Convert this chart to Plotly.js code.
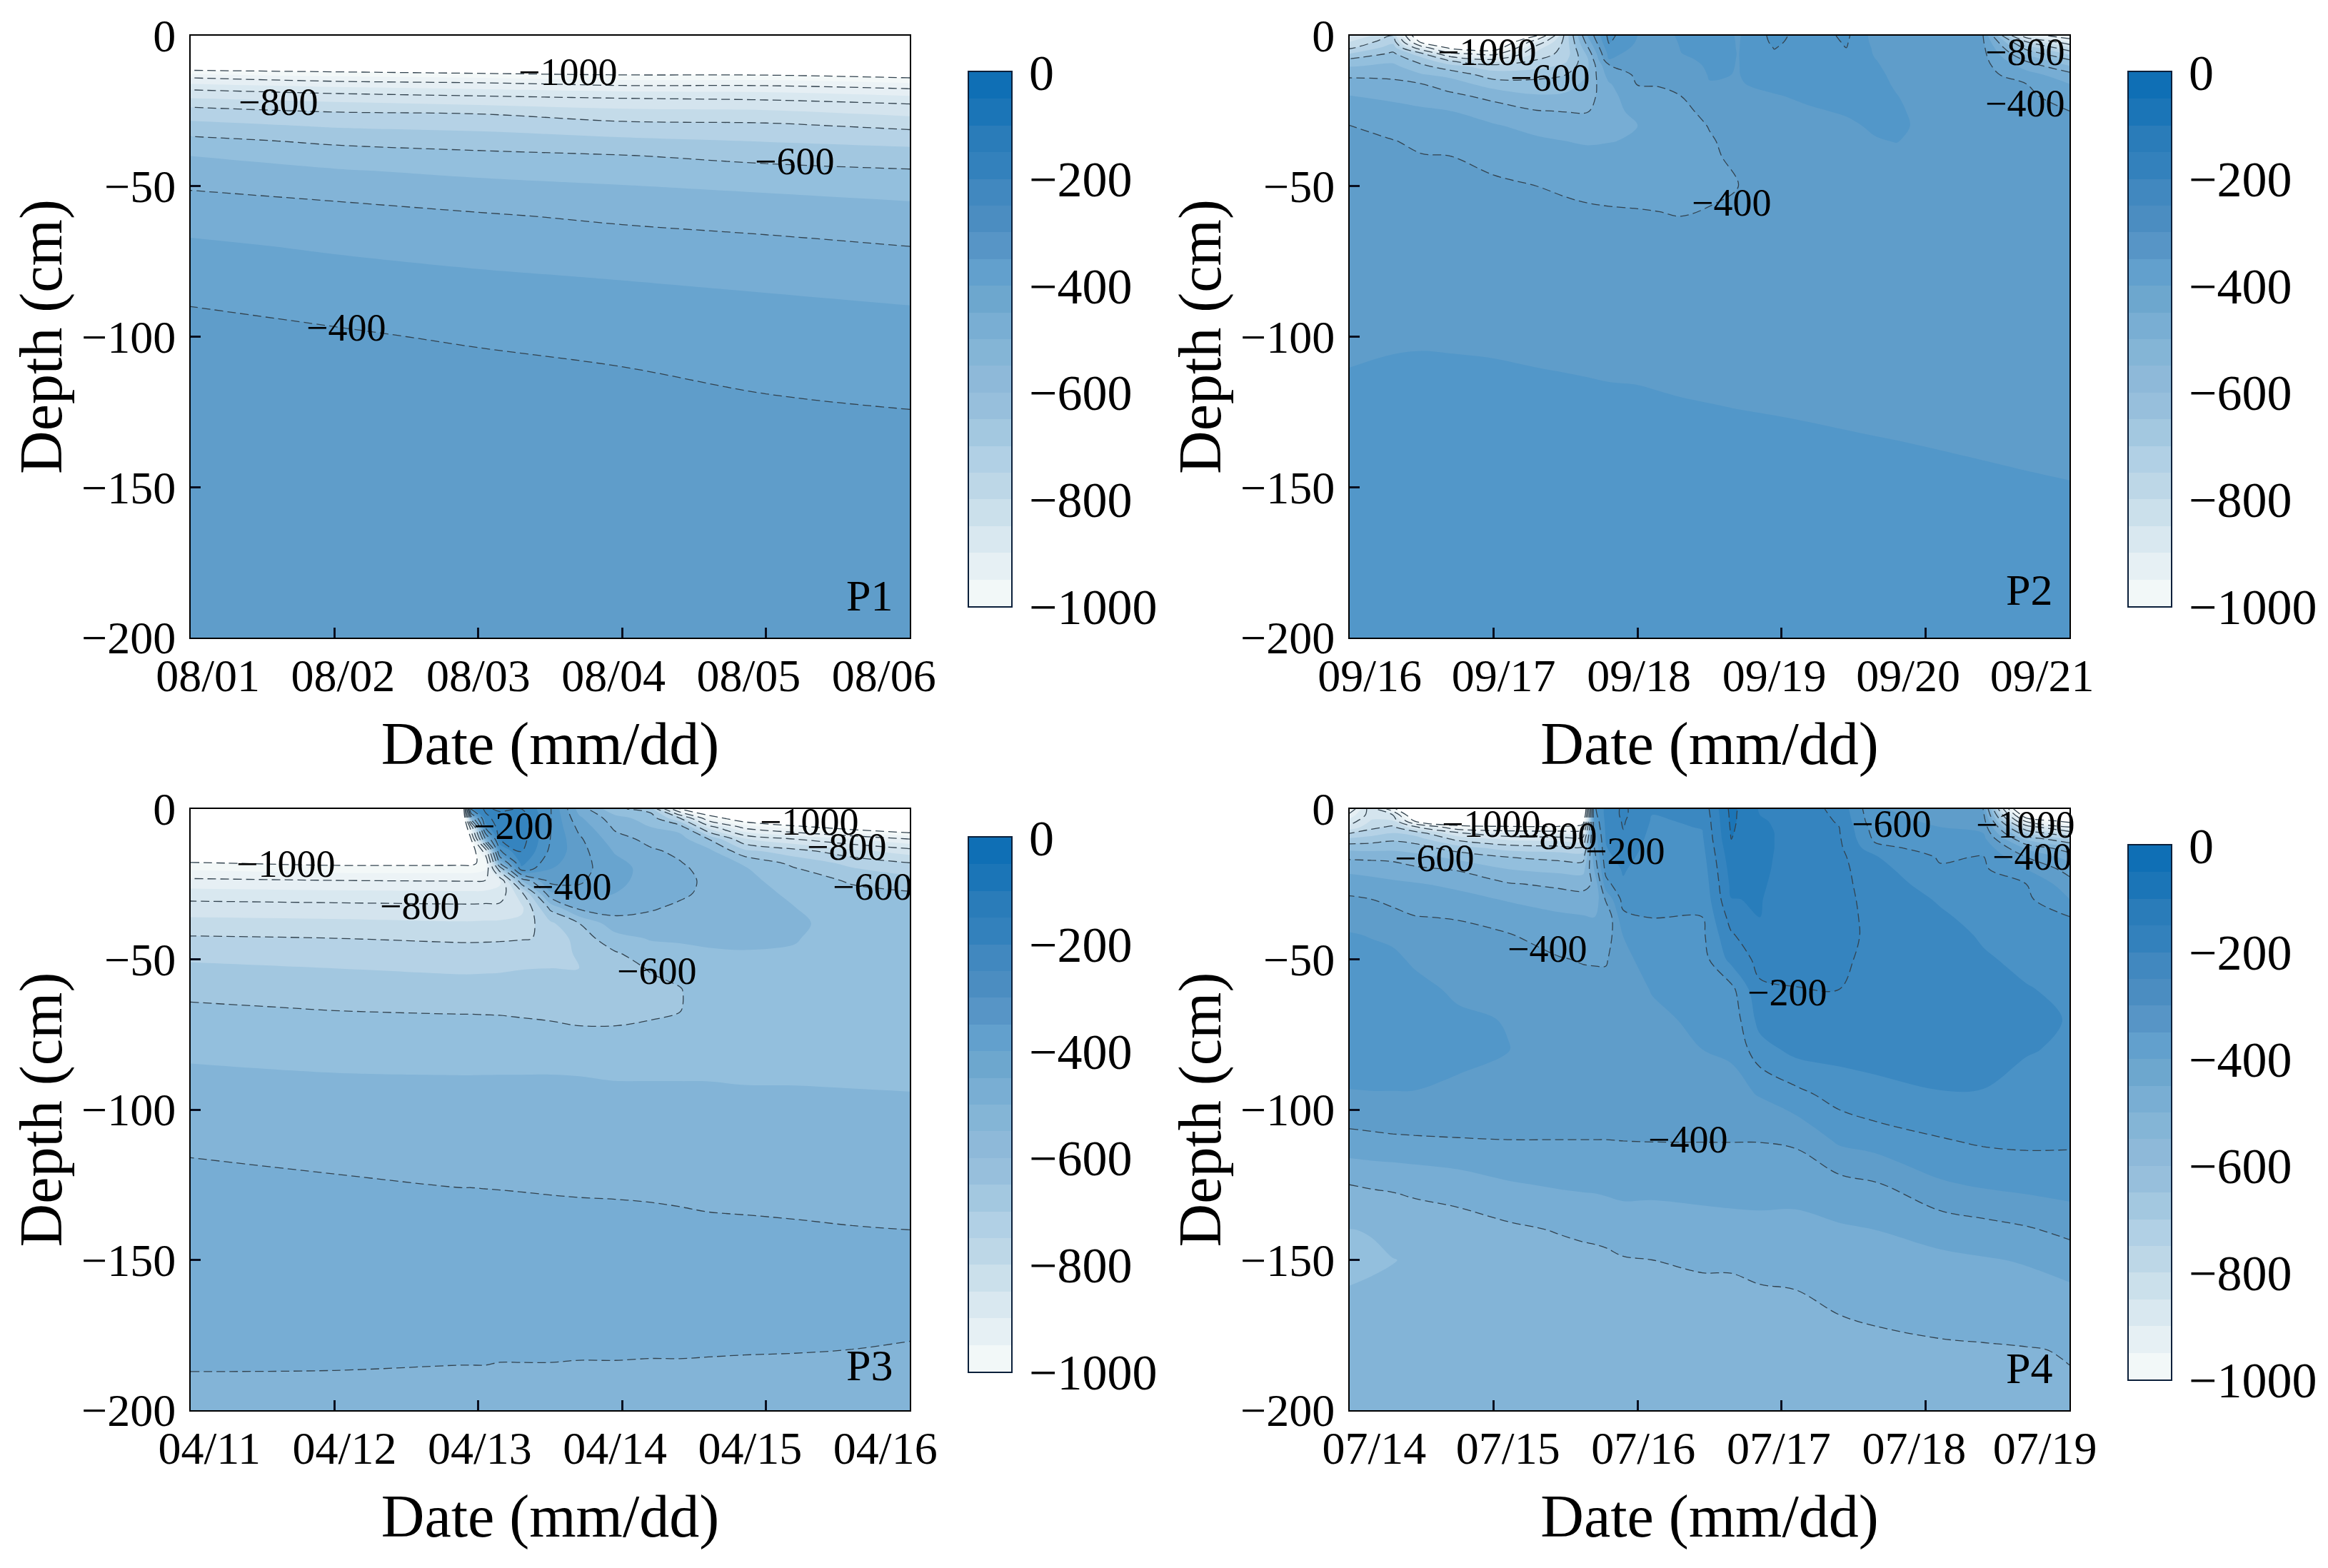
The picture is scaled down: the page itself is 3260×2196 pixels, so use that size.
<!DOCTYPE html>
<html>
<head>
<meta charset="utf-8">
<script src="https://cdn.plot.ly/plotly-3.0.1.min.js"></script>
<style>html,body{margin:0;padding:0;background:#fff}</style>
</head>
<body>
<div id="chart" style="width:3260px;height:2196px"></div>
<script>
// ---------- tick labels ----------
const p1Dates = ['08/01','08/02','08/03','08/04','08/05','08/06'];
const p2Dates = ['09/16','09/17','09/18','09/19','09/20','09/21'];
const p3Dates = ['04/11','04/12','04/13','04/14','04/15','04/16'];
const p4Dates = ['07/14','07/15','07/16','07/17','07/18','07/19'];
const p1DateAt = [0.12,1.06,2.00,2.94,3.88,4.82];
const p2DateAt = [0.14,1.07,2.01,2.95,3.88,4.81];
const p3DateAt = [0.13,1.07,2.01,2.95,3.89,4.83];
const p4DateAt = [0.17,1.10,2.04,2.98,3.92,4.83];
const scaleLevels = [-975,-925,-875,-825,-775,-725,-675,-625,-575,-525,-475,-425,-375,-325,-275,-225,-175,-125,-75,-25];
const scaleColours = ['#f2f8f8','#e6f0f4','#d9e8f0','#cbe0eb','#bdd7e7','#b1d0e5','#a3c8e0','#97bfdc','#8eb9d9','#84b5d6','#79aed3','#6da7ce','#62a0cd','#5795c6','#4b8dc1','#4188bf','#3381bc','#2a7cb9','#1b75b7','#0f6fb5'];
// fill colour below -1000, then each 50-wide band from -1000 up to 0, then above 0
const fillColours = ['#ffffff','#f3f8f8','#ecf3f6','#e6eff4','#d9e8f0','#d4e4ee','#c4dbe9','#b5d2e6','#a2c7e0','#93bfdd','#83b4d7','#77add4','#68a4cf','#5f9dca','#5297c9','#4a92c6','#3b88c1','#3584bf','#287dbb','#1b75b7','#0f6fb5','#0f6fb5'];

// ---------- P1: depth values per day column ----------
const p1Days = [0,1,2,3,4,5];
const p1Depths = [0,-10,-12,-14,-16,-18,-20,-23,-26,-30,-35,-40,-45,-50,-55,-60,-70,-80,-90,-100,-110,-125,-150,-200];
const p1Columns = [
[-1200,-1060,-980,-900,-850,-800,-764,-709,-674,-632,-586,-550,-527,-505,-487,-470,-442,-421,-400,-391,-385,-379,-372,-362],
[-1210,-1070,-1000,-933,-875,-825,-783,-733,-691,-655,-609,-575,-545,-523,-500,-485,-456,-433,-408,-396,-389,-381,-373,-362],
[-1220,-1080,-1017,-950,-889,-844,-800,-750,-700,-665,-622,-587,-561,-536,-514,-495,-468,-444,-418,-404,-393,-384,-374,-362],
[-1230,-1090,-1030,-971,-914,-862,-812,-766,-727,-683,-639,-597,-572,-548,-528,-508,-479,-453,-430,-414,-400,-388,-376,-361],
[-1240,-1095,-1035,-971,-914,-867,-822,-773,-733,-689,-652,-615,-585,-560,-538,-519,-488,-462,-440,-424,-409,-394,-378,-361],
[-1250,-1100,-1050,-1000,-943,-890,-850,-794,-759,-712,-662,-631,-595,-573,-550,-533,-500,-474,-449,-432,-417,-399,-380,-360]
];
const p1LabelX = [2.62,0.61,4.20,1.08];
const p1LabelY = [-12.1,-22,-41.7,-97];
const p1LabelText = ['−1000','−800','−600','−400'];

// ---------- P2 ----------
const p2Days = [0,0.3,0.5,0.7,1,1.3,1.5,1.65,1.8,2,2.15,2.3,2.5,2.7,2.95,3.2,3.45,3.65,3.8,3.95,4.4,4.7,5];
const p2Depths = [0,-2,-4,-6,-8,-10,-13,-16,-20,-25,-30,-35,-40,-50,-60,-80,-100,-110,-125,-150,-200];
const p2Columns = [
[-800,-750,-710,-650,-590,-555,-510,-480,-449,-425,-399,-395,-392,-385,-380,-368,-353.5,-350.1,-344.8,-336,-320],
[-700,-665,-625,-590,-565,-540,-515,-485,-460,-435,-420,-398,-394,-388,-382,-368,-352,-348.6,-343,-334.4,-318],
[-1150,-1030,-860,-685,-625,-590,-545,-500,-472,-442,-425,-410,-398,-390,-384,-368,-351.8,-348,-343,-334,-317],
[-1200,-1110,-1020,-880,-715,-635,-565,-525,-488,-450,-435,-420,-400,-391,-385,-369,-352,-348.4,-343,-334.2,-316],
[-1250,-1150,-1060,-925,-790,-680,-625,-575,-515,-475,-445,-432,-412,-393,-386,-370,-352.6,-349,-344,-335,-315],
[-1000,-850,-770,-735,-700,-670,-615,-585,-545,-498,-465,-442,-428,-400,-389,-372,-353.5,-350.1,-345,-336,-314],
[-680,-680,-680,-678,-660,-640,-600,-575,-540,-502,-472,-450,-433,-405,-391,-373,-354.2,-350.7,-345.5,-336.7,-314],
[-450,-480,-510,-540,-560,-560,-550,-535,-520,-503,-480,-455,-437,-410,-392,-373,-354.7,-351.2,-346,-337.2,-313],
[-285,-295,-315,-335,-352,-402,-430,-455,-470,-472,-465,-452,-435,-412,-394,-374,-355.3,-351.8,-346.5,-337.8,-313],
[-350,-355,-362,-370,-378,-385,-392,-398,-410,-432,-450,-445,-430,-412,-396,-375,-355.6,-352.1,-346.9,-338.1,-312],
[-375,-378,-382,-386,-390,-393,-396,-398,-406,-425,-438,-435,-425,-411,-398,-376,-356.3,-352.8,-347.6,-338.8,-312],
[-340,-345,-348,-351,-360,-372,-383,-392,-400,-413,-420,-422,-420,-410,-400,-378,-357,-353.5,-348.3,-339.5,-312],
[-320,-325,-330,-335,-340,-343,-347,-352,-368,-385,-398,-404,-405,-404,-398,-377,-357.7,-354.2,-349,-340.2,-312],
[-355,-353,-352,-351,-351,-351,-351,-352,-358,-368,-378,-386,-393,-400,-392,-377,-358.4,-354.9,-349.7,-340.9,-312],
[-285,-290,-298,-306,-315,-322,-332,-342,-352,-360,-367,-372,-378,-385,-382,-372,-359.1,-355.6,-350.4,-341.6,-312],
[-325,-327,-328,-330,-331,-332,-335,-338,-344,-353,-360,-366,-372,-378,-378,-371,-360,-356.5,-351.2,-342.5,-312],
[-290,-295,-300,-310,-318,-323,-329,-334,-340,-347,-355,-362,-368,-375,-376,-370,-360.9,-357.4,-352.1,-343.4,-313],
[-370,-365,-358,-354,-349,-345,-340,-338,-338,-340,-346,-352,-360,-370,-374,-370,-361.6,-358.1,-352.8,-344.1,-314],
[-375,-374,-372,-370,-367,-365,-360,-355,-349,-344,-342,-349,-358,-368,-373,-370,-362.1,-358.6,-353.3,-344.6,-315],
[-380,-379,-378,-376,-374,-372,-369,-366,-362,-358,-355,-357,-360,-368,-372,-370,-362.6,-359.1,-353.9,-345.1,-316],
[-400,-395,-390,-387,-385,-383,-381,-379,-377,-375,-373,-373,-373,-372,-371,-370,-364.4,-360.9,-355.6,-346.9,-318],
[-850,-700,-620,-560,-510,-470,-430,-400,-390,-382,-378,-376,-375,-373,-372,-370,-365.6,-362.1,-356.8,-348.1,-320],
[-950,-850,-740,-660,-600,-550,-480,-450,-425,-400,-392,-386,-382,-377,-374,-371,-366.7,-363.2,-358,-349.2,-322]
];
const p2LabelX = [0.95,1.39,2.65,4.69,4.69];
const p2LabelY = [-5.5,-14,-55.4,-5.5,-22.6];
const p2LabelText = ['−1000','−600','−400','−800','−400'];

// ---------- P3 ----------
const p3Days = [0,1,1.88,1.95,2.05,2.15,2.3,2.5,2.7,2.95,3.2,3.4,3.6,3.85,4.2,4.6,5];
const p3Depths = [0,-3,-6,-10,-14,-18,-20,-24,-28,-33,-38,-43,-48,-53,-60,-66,-72,-80,-90,-100,-116,-135,-160,-185,-200];
const p3Columns = [
[-1300,-1250,-1200,-1150,-1080,-995,-955,-885,-828,-775,-733,-694,-665,-640,-612,-595,-577,-558,-541,-525,-500,-480,-470,-497,-518],
[-1300,-1260,-1210,-1160,-1095,-1015,-975,-895,-835,-780,-738,-700,-675,-650,-623,-603,-586,-564,-546,-533,-506,-485,-472,-498,-515],
[-1300,-1270,-1220,-1170,-1100,-1015,-975,-900,-840,-785,-745,-708,-680,-658,-630,-606,-590,-568,-547,-535,-511,-490,-474,-500,-513],
[-260,-550,-850,-1000,-1060,-1015,-975,-900,-840,-785,-745,-708,-680,-658,-630,-606,-590,-568,-547,-534,-511,-490,-474,-500,-513],
[-190,-215,-280,-500,-860,-975,-955,-895,-838,-783,-743,-707,-680,-657,-629,-607,-590,-567,-547,-533,-512,-490,-474,-500,-512],
[-210,-175,-170,-200,-310,-500,-660,-860,-833,-782,-742,-706,-679,-656,-628,-607,-591,-566,-547,-532,-513,-490,-474,-501,-511],
[-200,-170,-165,-175,-195,-235,-265,-560,-715,-762,-735,-703,-676,-652,-625,-608,-594,-566,-547,-531,-515,-490,-473,-501,-510],
[-295,-295,-297,-300,-310,-335,-350,-385,-460,-590,-660,-695,-685,-650,-625,-612,-596,-565,-547,-530,-515,-492,-472,-501,-509],
[-470,-440,-415,-390,-380,-380,-382,-392,-420,-490,-600,-625,-640,-650,-630,-616,-600.5,-566,-548,-530,-516,-493,-471,-502,-508],
[-590,-530,-510,-480,-455,-435,-430,-440,-450,-480,-520,-570,-605,-615,-615,-612,-600.5,-565,-551,-529,-516,-494,-470,-502,-507],
[-620,-575,-550,-515,-493,-475,-470,-465,-475,-495,-520,-545,-575,-597,-610,-607,-597,-564,-551,-530,-518,-495,-469,-503,-506],
[-1000,-700,-570,-530,-510,-497,-490,-485,-490,-510,-525,-545,-560,-580,-603,-603,-592,-563,-551,-532,-518,-497,-468,-503,-506],
[-1090,-960,-770,-600,-535,-522,-517,-510,-512,-520,-532,-545,-553,-560,-570,-572,-570,-560,-551,-535,-519,-499,-467,-504,-505],
[-1180,-1060,-920,-745,-635,-555,-545,-535,-530,-530,-535,-543,-552,-556,-558,-557,-556,-553,-552,-541,-520,-500,-468,-505,-506],
[-1250,-1130,-980,-800,-680,-615,-595,-575,-560,-549,-542,-548,-553,-555,-556,-556,-556,-555,-552,-542,-522,-502,-468,-506,-512],
[-1300,-1190,-1040,-850,-735,-665,-645,-605,-588,-577,-570,-566,-563,-561,-560,-559,-558,-557,-553,-543,-525,-505,-470,-508,-518],
[-1350,-1230,-1090,-900,-775,-698,-675,-628,-595,-582,-575,-570,-566,-563,-561,-560,-559,-558,-554,-544,-528,-507,-472,-513,-525]
];
const p3LabelX = [2.24,0.66,1.59,2.65,3.24,4.30,4.56,4.74];
const p3LabelY = [-5.8,-18.3,-32.4,-25.8,-54,-4.2,-12.5,-25.8];
const p3LabelText = ['−200','−1000','−800','−400','−600','−1000','−800','−600'];

// ---------- P4 ----------
const p4Days = [0,0.15,0.3,0.45,0.75,1.1,1.45,1.62,1.7,1.78,1.9,2.1,2.45,2.65,2.85,3.1,3.4,3.65,4.1,4.4,4.7,5];
const p4Depths = [0,-2,-4,-6,-8,-10,-13,-16,-20,-25,-30,-36,-42,-50,-60,-70,-80,-95,-110,-125,-140,-150,-160,-180,-200];
const p4Columns = [
[-950,-880,-830,-785,-703,-640,-565,-510,-462,-425,-393,-365,-347,-335,-325,-322,-328,-353,-415,-500,-551,-562,-548,-528,-518],
[-760,-770,-745,-715,-675,-625,-570,-512,-468,-432,-400,-375,-352,-338,-328,-324,-328,-352,-411,-495,-548,-556,-545,-526,-517],
[-960,-800,-745,-690,-650,-610,-565,-515,-475,-440,-412,-385,-358,-342,-330,-325,-328,-352,-407,-493,-535,-551,-544,-525,-515],
[-1250,-1120,-1000,-785,-670,-625,-575,-530,-490,-445,-420,-398,-375,-356,-338,-328,-330,-352,-405,-487,-530,-546,-540,-523,-512],
[-1300,-1200,-1090,-970,-790,-715,-625,-565,-505,-462,-432,-403,-385,-372,-357,-343,-340,-358,-402,-475,-525,-540,-535,-520,-508],
[-1320,-1230,-1120,-985,-850,-760,-670,-600,-550,-495,-455,-420,-397,-380,-365,-352,-349,-370,-400,-455,-510,-530,-530,-522,-515],
[-1320,-1230,-1120,-985,-860,-770,-680,-615,-565,-510,-475,-440,-420,-397,-378,-368,-365,-378,-400,-445,-497,-518,-522,-520,-514],
[-1250,-1180,-1060,-950,-855,-780,-685,-620,-570,-515,-482,-446,-425,-403,-385,-375,-370,-380,-400,-442,-490,-515,-520,-519,-513],
[-310,-320,-340,-355,-372,-385,-400,-420,-445,-493,-485,-450,-428,-404,-386,-374,-369,-379,-400,-441,-488,-513,-518,-518,-512],
[-235,-235,-238,-240,-243,-247,-253,-262,-280,-320,-392,-447,-428,-405,-383,-370,-367,-377,-400,-438,-485,-510,-515,-517,-512],
[-190,-190,-195,-198,-203,-210,-220,-232,-245,-256,-282,-312,-349,-362,-368,-368,-366,-375,-399,-434,-478,-503,-510,-516,-512],
[-248,-250,-254,-258,-262,-265,-270,-274,-280,-285,-290,-299,-315,-330,-348,-358,-364,-378,-398,-437,-475,-500,-508,-515,-511],
[-235,-240,-245,-248,-252,-256,-262,-268,-275,-283,-290,-300,-310,-320,-332,-342,-350,-372,-398,-433,-470,-494,-508,-514,-510],
[-85,-88,-90,-93,-96,-99,-110,-120,-130,-140,-151,-180,-206,-235,-315,-333,-343,-366,-398,-431,-467,-492,-510,-514,-510],
[-155,-150,-145,-142,-140,-140,-140,-141,-142,-145,-148,-150,-163,-185,-208,-232,-270,-347,-398,-430,-465,-487,-503,-512,-510],
[-170,-168,-167,-166,-165,-165,-165,-166,-168,-170,-172,-174,-180,-190,-201,-218,-235,-315,-392,-432,-465,-485,-500,-511,-509],
[-215,-210,-205,-200,-197,-194,-190,-188,-186,-185,-185,-186,-188,-192,-200,-214,-232,-280,-340,-418,-456,-474,-493,-510,-508],
[-345,-340,-335,-325,-318,-310,-285,-245,-232,-224,-217,-212,-209,-212,-216,-225,-235,-262,-326,-406,-450,-469,-488,-508,-508],
[-370,-365,-358,-350,-342,-335,-320,-305,-295,-272,-255,-243,-236,-232,-232,-236,-241,-251,-303,-357,-432,-460,-479,-505,-507],
[-400,-385,-372,-362,-350,-335,-312,-298,-292,-284,-276,-265,-254,-246,-240,-240,-243,-251,-292,-344,-419,-454,-472,-504,-506],
[-1250,-1080,-920,-760,-650,-560,-460,-400,-350,-300,-290,-280,-270,-258,-248,-245,-247,-265,-289,-335,-406,-446,-466,-502,-506],
[-1350,-1200,-1030,-900,-765,-650,-530,-470,-420,-380,-350,-298,-285,-272,-257,-251,-256,-275,-292,-328,-387,-427,-458,-498,-506]
];
const p4LabelX = [0.98,1.44,0.59,1.91,1.37,3.04,3.76,4.69,4.74,2.35];
const p4LabelY = [-5,-9,-16.3,-14,-46.5,-61,-5,-5.3,-15.8,-110];
const p4LabelText = ['−1000','−800','−600','−200','−400','−200','−600','−1000','−400','−400'];

// ---------- helpers ----------
const W = 3260, H = 2196;
const SERIF = '"Liberation Serif", serif';
function toRows(cols, rowsN){
  cols.forEach((c,i)=>{ if(c.length!==rowsN) throw new Error('column '+i+' has '+c.length+' values, expected '+rowsN); });
  const out=[]; for(let r=0;r<rowsN;r++) out.push(cols.map(c=>c[r])); return out;
}
function stepScale(colours){
  const n=colours.length-1, s=[];
  colours.forEach((c,k)=>{ s.push([k===0?0:(k-0.5)/n,c]); s.push([k===n?1:(k+0.5)/n,c]); });
  return s;
}
function barScale(colours){
  const n=colours.length, s=[];
  colours.forEach((c,k)=>{ s.push([k/n,c]); s.push([(k+1)/n,c]); });
  return s;
}
const panels = [
 {id:1, name:'P1', days:p1Days, depths:p1Depths, cols:p1Columns, dates:p1Dates, at:p1DateAt, lx:p1LabelX, ly:p1LabelY, lt:p1LabelText,
  box:[267,1274,50,893], bar:[1357,1416,101,849], nameAt:[4.72,-186]},
 {id:2, name:'P2', days:p2Days, depths:p2Depths, cols:p2Columns, dates:p2Dates, at:p2DateAt, lx:p2LabelX, ly:p2LabelY, lt:p2LabelText,
  box:[1890,2898,50,893], bar:[2981,3040,101,849], nameAt:[4.72,-184]},
 {id:3, name:'P3', days:p3Days, depths:p3Depths, cols:p3Columns, dates:p3Dates, at:p3DateAt, lx:p3LabelX, ly:p3LabelY, lt:p3LabelText,
  box:[267,1274,1133,1975], bar:[1357,1416,1173,1921], nameAt:[4.72,-185]},
 {id:4, name:'P4', days:p4Days, depths:p4Depths, cols:p4Columns, dates:p4Dates, at:p4DateAt, lx:p4LabelX, ly:p4LabelY, lt:p4LabelText,
  box:[1890,2898,1133,1975], bar:[2981,3040,1184,1932], nameAt:[4.72,-186]}
];
const data=[], annotations=[];
const layout={
  width:W, height:H, margin:{l:0,r:0,t:0,b:0}, paper_bgcolor:'#fff', plot_bgcolor:'#fff',
  showlegend:false, font:{family:SERIF,color:'#000',size:64}
};
panels.forEach(p=>{
  const i=p.id, xMain=i===1?'x':'x'+i, yMain=i===1?'y':'y'+i;
  const xOver='x'+(i+4), xBar='x'+(i+8), yBar='y'+(i+4);
  const z=toRows(p.cols,p.depths.length);
  const dx=[p.box[0]/W,p.box[1]/W], dy=[1-p.box[3]/H,1-p.box[2]/H];
  data.push({type:'contour',x:p.days,y:p.depths,z:z,xaxis:xMain,yaxis:yMain,
    autocontour:false,contours:{start:-1000,end:0,size:50,coloring:'fill',showlines:false},
    colorscale:stepScale(fillColours),showscale:false,line:{width:0,smoothing:1},hoverinfo:'skip'});
  data.push({type:'contour',x:p.days,y:p.depths,z:z,xaxis:xOver,yaxis:yMain,
    autocontour:false,contours:{start:-1000,end:-100,size:100,coloring:'none',showlines:true},
    showscale:false,line:{color:'#33434f',width:1.3,dash:'12px,6px',smoothing:1},hoverinfo:'skip'});
  data.push({type:'heatmap',x:[0],y:scaleLevels,z:scaleLevels.map(v=>[v]),xaxis:xBar,yaxis:yBar,
    colorscale:barScale(scaleColours),zmin:-1000,zmax:0,showscale:false,hoverinfo:'skip'});
  const nm=s=>s==='x'?'xaxis':s==='y'?'yaxis':(s[0]+'axis'+s.slice(1));
  layout[nm(xMain)]={domain:dx,anchor:yMain,range:[0,5],tickmode:'array',tickvals:p.at,ticktext:p.dates,ticks:'',
    showgrid:false,zeroline:false,showline:false,tickfont:{family:SERIF,size:64,color:'#000'},ticklabelstandoff:10,
    title:{text:'Date (mm/dd)',font:{family:SERIF,size:84,color:'#000'},standoff:30}};
  layout[nm(yMain)]={domain:dy,anchor:xMain,range:[-200,0],tickmode:'array',tickvals:[0,-50,-100,-150,-200],
    ticks:'inside',ticklen:14,tickwidth:3,tickcolor:'#0a1020',showline:true,mirror:true,linecolor:'#000',linewidth:2,
    showgrid:false,zeroline:false,tickfont:{family:SERIF,size:64,color:'#000'},ticklabelstandoff:6,
    title:{text:'Depth (cm)',font:{family:SERIF,size:84,color:'#000'},standoff:0}};
  layout[nm(xOver)]={overlaying:xMain,anchor:yMain,side:'bottom',range:[0,5],tickmode:'array',tickvals:[1,2,3,4],
    ticks:'inside',ticklen:14,tickwidth:3,tickcolor:'#0a1020',showticklabels:false,showline:true,mirror:true,linecolor:'#000',linewidth:2,
    showgrid:false,zeroline:false};
  layout[nm(xBar)]={domain:[p.bar[0]/W,p.bar[1]/W],anchor:yBar,range:[-0.5,0.5],showticklabels:false,ticks:'',showgrid:false,zeroline:false,
    showline:true,mirror:true,linecolor:'#0b1f3a',linewidth:2};
  layout[nm(yBar)]={domain:[1-p.bar[3]/H,1-p.bar[2]/H],anchor:xBar,side:'right',range:[-1000,0],tickmode:'array',tickvals:[0,-200,-400,-600,-800,-1000],
    ticks:'',showline:true,mirror:true,linecolor:'#0b1f3a',linewidth:2,showgrid:false,zeroline:false,
    tickfont:{family:SERIF,size:70,color:'#000'},ticklabelstandoff:9};
  p.lt.forEach((t,k)=>annotations.push({xref:xOver,yref:yMain,x:p.lx[k],y:p.ly[k],text:t,showarrow:false,
    font:{family:SERIF,size:54,color:'#000'},xanchor:'center',yanchor:'middle'}));
  annotations.push({xref:xOver,yref:yMain,x:p.nameAt[0],y:p.nameAt[1],text:p.name,showarrow:false,
    font:{family:SERIF,size:62,color:'#000'},xanchor:'center',yanchor:'middle'});
});
layout.annotations=annotations;
Plotly.newPlot('chart',data,layout,{staticPlot:true,displayModeBar:false});
</script>
</body>
</html>
